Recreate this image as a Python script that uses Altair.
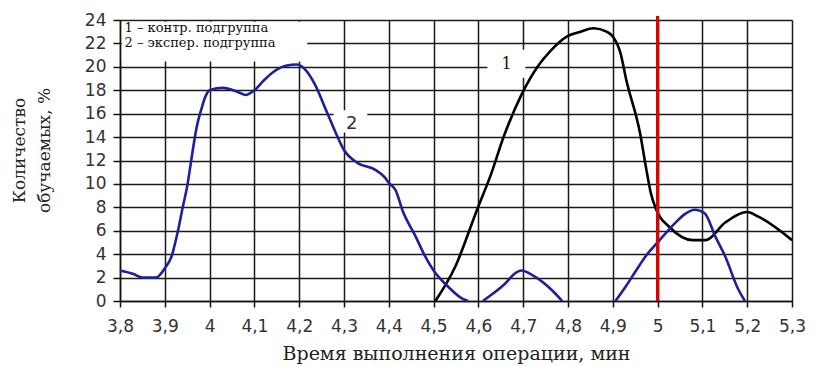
import altair as alt
import pandas as pd

# ---- data ----
x_ticks = [3.8, 3.9, 4.0, 4.1, 4.2, 4.3, 4.4, 4.5, 4.6, 4.7, 4.8, 4.9, 5.0, 5.1, 5.2, 5.3]
y_ticks = [0, 2, 4, 6, 8, 10, 12, 14, 16, 18, 20, 22, 24]

# curve 1 (control subgroup)
ctrl_x = [4.504, 4.548, 4.597, 4.626, 4.659, 4.696, 4.732, 4.762, 4.798, 4.828, 4.857,
          4.886, 4.90, 4.917, 4.93, 4.961, 4.975, 4.985, 4.997, 5.027, 5.078, 5.107,
          5.151, 5.20, 5.225, 5.30]
ctrl_y = [0.0, 2.9, 7.8, 10.6, 14.3, 17.6, 20.0, 21.4, 22.6, 23.0, 23.3,
          23.0, 22.6, 21.2, 18.9, 14.3, 11.2, 9.2, 7.8, 6.3, 5.2, 5.2,
          6.7, 7.6, 7.2, 5.2]

# curve 2 (experimental subgroup), three separate pieces
exp_a_x = [3.80, 3.83, 3.85, 3.88, 3.90, 3.915, 3.93, 3.94, 3.95, 3.957, 3.965, 3.972,
           3.981, 3.99, 4.00, 4.03, 4.06, 4.08, 4.10, 4.12, 4.14, 4.17, 4.195, 4.215,
           4.235, 4.26, 4.28, 4.30, 4.33, 4.37, 4.39, 4.40, 4.416, 4.43, 4.46, 4.48,
           4.50, 4.533, 4.564, 4.577]
exp_a_y = [2.6, 2.3, 2.0, 2.0, 2.8, 3.8, 6.1, 8.0, 9.8, 11.5, 13.5, 15.0,
           16.3, 17.4, 18.0, 18.2, 17.9, 17.6, 18.0, 18.8, 19.5, 20.1, 20.2, 19.7,
           18.5, 16.3, 14.5, 12.9, 11.8, 11.2, 10.6, 10.1, 9.4, 7.8, 5.5, 3.9,
           2.6, 1.2, 0.2, 0.0]
exp_b_x = [4.61, 4.635, 4.66, 4.68, 4.696, 4.725, 4.762, 4.787]
exp_b_y = [0.0, 0.7, 1.5, 2.3, 2.6, 2.1, 1.0, 0.0]
exp_c_x = [4.906, 4.93, 4.952, 4.975, 5.00, 5.04, 5.06, 5.083, 5.105, 5.129, 5.151, 5.18, 5.195]
exp_c_y = [0.0, 1.3, 2.6, 3.9, 5.0, 6.7, 7.4, 7.8, 7.5, 5.5, 3.8, 1.0, 0.0]

legend_lines = ["1 – контр. подгруппа", "2 – экспер. подгруппа"]
threshold = 5.0

# ---- tables ----
rows = []
for sx, sy, series, seg in [(ctrl_x, ctrl_y, "1", "c"),
                            (exp_a_x, exp_a_y, "2", "a"),
                            (exp_b_x, exp_b_y, "2", "b"),
                            (exp_c_x, exp_c_y, "2", "cc")]:
    for xv, yv in zip(sx, sy):
        rows.append({"x": xv, "y": yv, "series": series, "seg": seg})
lines_df = pd.DataFrame(rows)

boxes_df = pd.DataFrame({
    "x": [3.804, 4.62, 4.277],
    "x2": [4.218, 4.705, 4.352],
    "y": [20.45, 19.06, 14.4],
    "y2": [23.85, 21.45, 16.3],
})

legend_df = pd.DataFrame({"x": [3.81, 3.81], "y": [23.35, 22.0], "text": legend_lines})
label1_df = pd.DataFrame({"x": [4.663], "y": [20.2], "text": ["1"]})
label2_df = pd.DataFrame({"x": [4.317], "y": [15.1], "text": ["2"]})
rule_df = pd.DataFrame({"x": [threshold], "y": [0], "y2": [24.35]})

xscale = alt.Scale(domain=[3.8, 5.3], nice=False, zero=False)
yscale = alt.Scale(domain=[0, 24], nice=False)

xaxis = alt.Axis(
    values=x_ticks,
    labelExpr="replace(format(datum.value, '.1~f'), '.', ',')",
    labelOverlap=False, labelFlush=False,
    title="Время выполнения операции, мин",
    titleFont="DejaVu Serif", titleFontSize=19, titleFontWeight="normal",
    titleColor="#222", titlePadding=10,
    labelFont="DejaVu Sans", labelFontSize=17, labelColor="#333",
    labelPadding=11, tickSize=6, tickColor="#111", tickWidth=1.5,
    domainColor="#111", domainWidth=1.5,
    grid=True, gridColor="#1a1a1a", gridWidth=1.5, gridOpacity=1,
)
yaxis = alt.Axis(
    values=y_ticks,
    tickCount=13,
    labelOverlap=False, labelFlush=False,
    title=["Количество", "обучаемых, %"],
    titleFont="DejaVu Serif", titleFontSize=17, titleFontWeight="normal",
    titleColor="#222", titleAngle=-90, titleAlign="center",
    titleBaseline="alphabetic", titleLineHeight=25, titleX=-96, titleY=130,
    labelFont="DejaVu Sans", labelFontSize=17, labelColor="#333",
    labelPadding=7, tickSize=7, tickColor="#111", tickWidth=1.5,
    domainColor="#111", domainWidth=1.5,
    grid=True, gridColor="#1a1a1a", gridWidth=1.5, gridOpacity=1,
)

def X(field="x:Q"):
    return alt.X(field, scale=xscale, axis=xaxis)

def Y(field="y:Q"):
    return alt.Y(field, scale=yscale, axis=yaxis)

boxes = alt.Chart(boxes_df).mark_rect(color="white", opacity=1).encode(
    x=X(), x2="x2:Q", y=Y(), y2="y2:Q",
)

lines = alt.Chart(lines_df).mark_line(interpolate="monotone", strokeWidth=2.6).encode(
    x=X(), y=Y(),
    color=alt.Color("series:N", scale=alt.Scale(domain=["1", "2"], range=["#000000", "#1f1f99"]), legend=None),
    detail="seg:N",
    order="x:Q",
)

rule = alt.Chart(rule_df).mark_rule(color="#e00000", strokeWidth=3.2, clip=False).encode(
    x=X(), y=Y(), y2="y2:Q"
)

legend = alt.Chart(legend_df).mark_text(
    align="left", baseline="middle", font="DejaVu Serif", fontSize=13, color="#111"
).encode(x=X(), y=Y(), text="text:N")

lab1 = alt.Chart(label1_df).mark_text(
    align="center", baseline="middle", font="DejaVu Serif", fontSize=16, color="#111"
).encode(x=X(), y=Y(), text="text:N")

lab2 = alt.Chart(label2_df).mark_text(
    align="center", baseline="middle", font="DejaVu Sans", fontSize=18, color="#333"
).encode(x=X(), y=Y(), text="text:N")

chart = alt.layer(boxes, lines, rule, legend, lab1, lab2).properties(
    width=672, height=281,
    autosize=alt.AutoSizeParams(type="none"),
    padding={"left": 112, "top": 12, "right": 16, "bottom": 66},
).configure_view(stroke=None).configure(background="white")

chart.save("out.html", embed_options={"renderer": "svg", "actions": False})
